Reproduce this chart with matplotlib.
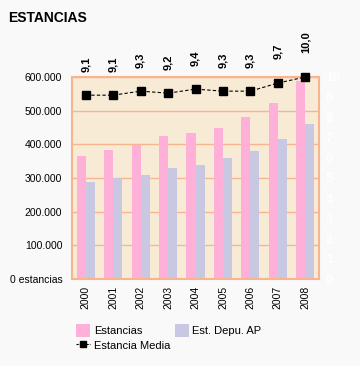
import matplotlib
matplotlib.use("Agg")
import matplotlib.pyplot as plt
import numpy as np
from matplotlib.patches import Patch
from matplotlib.lines import Line2D

years = ["2000", "2001", "2002", "2003", "2004", "2005", "2006", "2007", "2008"]
estancias = [366000, 384000, 397000, 426000, 435000, 450000, 482000, 524000, 587000]
est_depu_ap = [289000, 300000, 310000, 330000, 339000, 360000, 381000, 417000, 461000]
estancia_media = [9.1, 9.1, 9.3, 9.2, 9.4, 9.3, 9.3, 9.7, 10.0]
left_ticks = [0, 100000, 200000, 300000, 400000, 500000, 600000]
left_labels = ["0 estancias", "100.000", "200.000", "300.000", "400.000", "500.000", "600.000"]

plt.rcParams['font.family'] = ['Liberation Sans', 'DejaVu Sans']

pink = "#FFB0D8"
lav = "#C8C8E2"
grid_c = "#F7B48E"
bg = "#F7EBD6"

fig = plt.figure(figsize=(3.6, 3.66), dpi=100, facecolor="#F9F9F9")
ax = fig.add_axes([72/360, 1-279/366, (319-72)/360, (279-77)/366])
ax.set_facecolor(bg)
x = np.arange(len(years))
w = 0.33
ax.bar(x - w/2, estancias, w, color=pink, zorder=2)
ax.bar(x + w/2, est_depu_ap, w, color=lav, zorder=2)
ax.set_xlim(-0.5, len(years) - 0.5)
ax.set_ylim(0, 600000)
ax.set_yticks(left_ticks)
ax.set_yticklabels(left_labels, fontsize=7.5)
ax.yaxis.grid(True, color=grid_c, linewidth=1, zorder=1)
ax.set_axisbelow(True)
ax.tick_params(axis='y', length=0, pad=7)
ax.set_xticks(x)
ax.set_xticklabels(years, rotation=90, fontsize=7.5)
ax.tick_params(axis='x', length=0, pad=5)
for s in ax.spines.values():
    s.set_color(grid_c)
    s.set_linewidth(1.5)

ax2 = ax.twinx()
ax2.set_ylim(0, 10)
ax2.plot(x, estancia_media, color="black", linestyle=(0, (3, 2)), linewidth=0.8,
         marker="s", markersize=6, zorder=5, clip_on=False)
ax2.set_yticks(range(0, 11))
ax2.set_yticklabels([str(i) for i in range(0, 11)], color="white", fontsize=9, fontweight="bold")
ax2.tick_params(axis='y', length=0, pad=5)
for s in ax2.spines.values():
    s.set_visible(False)
for xi, v in zip(x, estancia_media):
    ax2.annotate(f"{v:.1f}".replace(".", ","), (xi, v), xytext=(0, 17), textcoords="offset points",
                 rotation=90, ha="center", va="bottom", fontsize=8, fontweight="bold",
                 annotation_clip=False)

fig.text(8/360, 1-18/366, "ESTANCIAS", fontsize=10, fontweight="bold", va="center", ha="left")

handles = [Patch(facecolor=pink, edgecolor="none"),
           Line2D([0], [0], color="black", linestyle=(0, (2, 1)), linewidth=0.8, marker="s", markersize=5),
           Patch(facecolor=lav, edgecolor="none")]
labels = ["Estancias", "Estancia Media", "Est. Depu. AP"]
fig.legend(handles, labels, loc="upper left", bbox_to_anchor=(76/360, 1-324/366), ncol=2,
           frameon=False, fontsize=8, handlelength=1.3, handleheight=1.4, handletextpad=0.3,
           columnspacing=0.4, labelspacing=0.15, borderpad=0, borderaxespad=0)

fig.savefig("out.png", dpi=100, facecolor=fig.get_facecolor())
